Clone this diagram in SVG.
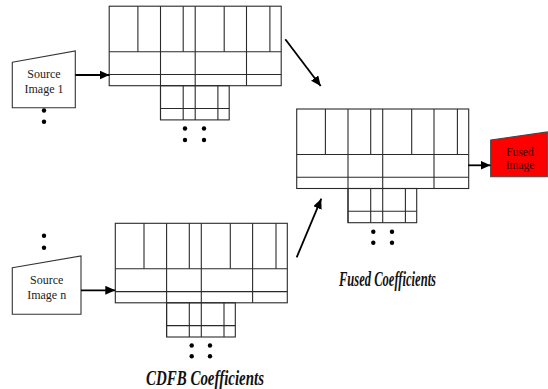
<svg xmlns="http://www.w3.org/2000/svg" xmlns:xlink="http://www.w3.org/1999/xlink" width="548" height="389" viewBox="0 0 548 389">
<style>
.g line,.g rect{stroke:#2a2a2a;stroke-width:1.1;fill:none}
.src{fill:#fff;stroke:#333;stroke-width:1.1}
.fused{fill:#ff0000;stroke:#444;stroke-width:1.1}
.lbl{font-family:'Liberation Serif','Times New Roman',serif;font-size:12px;fill:#222;text-anchor:middle}
.flbl{font-family:'Liberation Serif','Times New Roman',serif;font-size:11.5px;fill:#3a0000;text-anchor:middle}
.cap{font-family:'Liberation Serif','DejaVu Serif',serif;font-style:italic;font-weight:bold;font-size:22px;fill:#111}
.arr{stroke:#000;stroke-width:1.8;fill:none;marker-end:url(#ah)}
.dot{fill:#000}
</style>
<defs>
<marker id="ah" markerUnits="userSpaceOnUse" markerWidth="12" markerHeight="10" refX="10" refY="4.5" orient="auto">
<path d="M0,0 L10,4.5 L0,9 Z" fill="#000"/>
</marker>
<g id="grid" class="g">
<rect x="0" y="0" width="172" height="79.5"/>
<line x1="28.7" y1="0" x2="28.7" y2="45.5"/>
<line x1="51.3" y1="0" x2="51.3" y2="113.7"/>
<line x1="74" y1="0" x2="74" y2="45.5"/>
<line x1="86" y1="0" x2="86" y2="113.7"/>
<line x1="115" y1="0" x2="115" y2="45.5"/>
<line x1="137.3" y1="0" x2="137.3" y2="79.5"/>
<line x1="160.7" y1="0" x2="160.7" y2="45.5"/>
<line x1="0" y1="45.5" x2="172" y2="45.5"/>
<line x1="0" y1="68.3" x2="172" y2="68.3"/>
<rect x="51.3" y="79.5" width="68.7" height="34.2"/>
<line x1="74" y1="79.5" x2="74" y2="113.7"/>
<line x1="108.7" y1="79.5" x2="108.7" y2="113.7"/>
<line x1="51.3" y1="102.3" x2="120" y2="102.3"/>
</g>
</defs>
<g id="source1">
<polygon class="src" points="12.3,62.3 75.3,51 75.3,107.7 12.3,107.7"/>
<text class="lbl" x="44" y="78">Source</text>
<text class="lbl" x="44" y="92.5">Image 1</text>
<circle class="dot" cx="44" cy="110.5" r="2.2"/>
<circle class="dot" cx="44" cy="121.7" r="2.2"/>
</g>
<g id="sourceN">
<polygon class="src" points="12.3,267.7 81,256 81,314.3 12.3,314.3"/>
<text class="lbl" x="46.7" y="284">Source</text>
<text class="lbl" x="46.7" y="298.5">Image n</text>
<circle class="dot" cx="44" cy="235.7" r="2.2"/>
<circle class="dot" cx="44" cy="247.7" r="2.2"/>
</g>
<g id="cdfb1">
<use xlink:href="#grid" href="#grid" transform="translate(109.2,6.2)"/>
<circle class="dot" cx="185" cy="128.5" r="2.2"/>
<circle class="dot" cx="204" cy="128.5" r="2.2"/>
<circle class="dot" cx="185" cy="140" r="2.2"/>
<circle class="dot" cx="204" cy="140" r="2.2"/>
</g>
<g id="cdfbN">
<use xlink:href="#grid" href="#grid" transform="translate(115.3,223.3)"/>
<circle class="dot" cx="191.7" cy="345.5" r="2.2"/>
<circle class="dot" cx="210" cy="345.5" r="2.2"/>
<circle class="dot" cx="191.7" cy="356.3" r="2.2"/>
<circle class="dot" cx="210" cy="356.3" r="2.2"/>
<text class="cap" x="146" y="385" textLength="118" lengthAdjust="spacingAndGlyphs">CDFB Coefficients</text>
</g>
<g id="fusedCoef">
<use xlink:href="#grid" href="#grid" transform="translate(296.7,109)"/>
<circle class="dot" cx="373.3" cy="231.7" r="2.2"/>
<circle class="dot" cx="392" cy="231.7" r="2.2"/>
<circle class="dot" cx="373.3" cy="242.7" r="2.2"/>
<circle class="dot" cx="392" cy="242.7" r="2.2"/>
<text class="cap" x="339" y="286" textLength="97" lengthAdjust="spacingAndGlyphs">Fused Coefficients</text>
</g>
<g id="fusedImage">
<polygon class="fused" points="490.7,140 547.3,132 547.3,176.7 490.7,176.7"/>
<text class="flbl" x="520" y="155.8">Fused</text>
<text class="flbl" x="520" y="169.2">Image</text>
</g>
<g id="connectors">
<line class="arr" x1="75.3" y1="75" x2="109.5" y2="75"/>
<line class="arr" x1="81" y1="290.3" x2="115.3" y2="290.3"/>
<line class="arr" x1="468.3" y1="165.3" x2="490.5" y2="165.3"/>
<line class="arr" x1="285.3" y1="39.3" x2="320.7" y2="86"/>
<line class="arr" x1="296.7" y1="257.3" x2="321.3" y2="198.7"/>
</g>
</svg>
